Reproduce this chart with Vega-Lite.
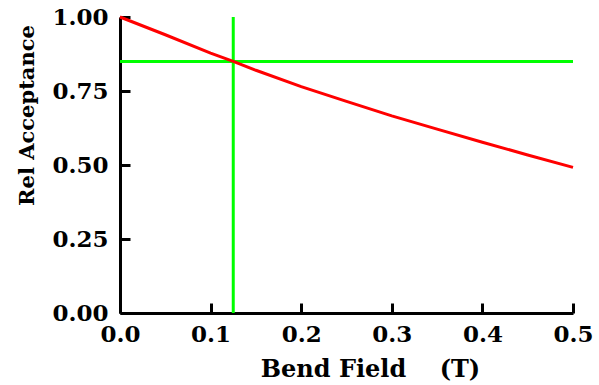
{
  "$schema": "https://vega.github.io/schema/vega-lite/v6.json",
  "width": 453,
  "height": 296,
  "autosize": {"type": "none"},
  "padding": {"left": 120, "top": 17, "right": 26, "bottom": 72},
  "background": "white",
  "config": {
    "view": {"stroke": null},
    "font": "DejaVu Serif",
    "axis": {
      "grid": false,
      "domainColor": "black",
      "domainWidth": 3,
      "tickColor": "black",
      "tickWidth": 3,
      "tickSize": -10,
      "labelFlush": false,
      "labelFont": "DejaVu Serif",
      "labelFontWeight": "bold",
      "labelFontSize": 23,
      "labelColor": "black",
      "titleFont": "DejaVu Serif",
      "titleFontWeight": "bold",
      "titleColor": "black"
    }
  },
  "datasets": {
    "curve": [
      {"B": 0.0, "acc": 1.0},
      {"B": 0.05, "acc": 0.94},
      {"B": 0.1, "acc": 0.878},
      {"B": 0.125, "acc": 0.85},
      {"B": 0.15, "acc": 0.82},
      {"B": 0.2, "acc": 0.765},
      {"B": 0.25, "acc": 0.715},
      {"B": 0.3, "acc": 0.666},
      {"B": 0.35, "acc": 0.621},
      {"B": 0.4, "acc": 0.577},
      {"B": 0.45, "acc": 0.534},
      {"B": 0.5, "acc": 0.492}
    ],
    "guides": [
      {"x": 0.125, "x2": 0.125, "y": 0, "y2": 1},
      {"x": 0, "x2": 0.5, "y": 0.85, "y2": 0.85}
    ]
  },
  "layer": [
    {
      "data": {"name": "guides"},
      "mark": {"type": "rule", "color": "#00ff00", "strokeWidth": 3},
      "encoding": {
        "x": {"field": "x", "type": "quantitative", "scale": {"domain": [0, 0.5]},
          "axis": {"values": [0, 0.1, 0.2, 0.3, 0.4, 0.5], "format": ".1f", "labelPadding": 20,
            "title": "Bend Field\u00a0\u00a0\u00a0\u00a0(T)", "titleFontSize": 24, "titleX": 250, "titleY": 63, "titleBaseline": "alphabetic", "titleAlign": "center"}},
        "x2": {"field": "x2"},
        "y": {"field": "y", "type": "quantitative", "scale": {"domain": [0, 1]},
          "axis": {"values": [0, 0.25, 0.5, 0.75, 1], "format": ".2f", "labelPadding": 22,
            "title": "Rel Acceptance", "titleFontSize": 21, "titleX": -87, "titleY": 98, "titleBaseline": "alphabetic", "titleAlign": "center", "titleAngle": -90}},
        "y2": {"field": "y2"}
      }
    },
    {
      "data": {"name": "curve"},
      "mark": {"type": "line", "color": "#ff0000", "strokeWidth": 3},
      "encoding": {
        "x": {"field": "B", "type": "quantitative"},
        "y": {"field": "acc", "type": "quantitative"}
      }
    }
  ]
}
